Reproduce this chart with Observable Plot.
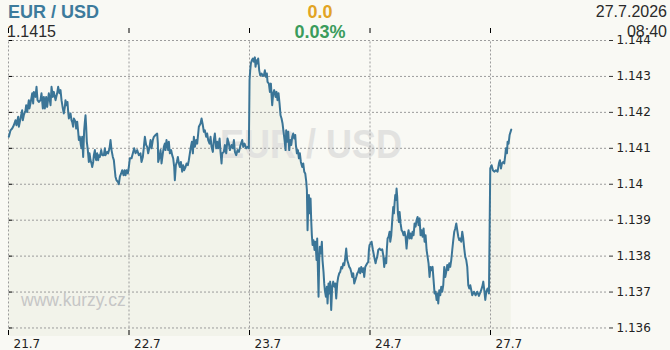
<!DOCTYPE html>
<html><head><meta charset="utf-8">
<script src="https://cdn.jsdelivr.net/npm/d3@7"></script>
<script src="https://cdn.jsdelivr.net/npm/@observablehq/plot@0.6"></script>
<style>
body{margin:0;background:#f9f9f4;}
#wrap{position:relative;width:670px;height:350px;overflow:hidden;background:#f9f9f4;font-family:"Liberation Sans",Arial,sans-serif;}
#wrap svg{position:absolute;left:0;top:0;}
.lbl{position:absolute;white-space:nowrap;}
</style></head><body>
<div id="wrap"></div>
<script>
// ---- data ----
const pairName = "EUR / USD";
const lastRate = "1.1415";
const changeAbs = "0.0";
const changePct = "0.03%";
const dateText = "27.7.2026";
const timeText = "08:40";
const siteText = "www.kurzy.cz";
const dayTicks = [0, 24, 48, 72, 96];          // hours since 21.7 00:00 (trading time)
const dayLabels = ["21.7", "22.7", "23.7", "24.7", "27.7"];
const rateTicks = [1.136, 1.137, 1.138, 1.139, 1.140, 1.141, 1.142, 1.143, 1.144];
// [hour, rate]
const series = [
[0.07,1.14132],[0.40,1.14150],[0.73,1.14155],[1.06,1.14164],[1.39,1.14178],[1.59,1.14164],[1.93,1.14188],[2.06,1.14160],[2.39,1.14183],[2.72,1.14206],
[2.85,1.14178],[3.05,1.14192],[3.39,1.14206],[3.52,1.14220],[3.72,1.14201],[4.05,1.14234],[4.18,1.14211],[4.38,1.14225],[4.72,1.14253],[4.91,1.14225],
[5.05,1.14257],[5.38,1.14243],[5.58,1.14271],[5.78,1.14234],[6.04,1.14229],[6.37,1.14234],[6.57,1.14253],[6.84,1.14211],[7.04,1.14243],[7.24,1.14211],
[7.50,1.14243],[7.70,1.14215],[8.03,1.14253],[8.37,1.14220],[8.57,1.14271],[8.83,1.14243],[9.03,1.14257],[9.36,1.14234],[9.69,1.14253],[9.89,1.14271],
[10.16,1.14253],[10.36,1.14262],[10.56,1.14234],[10.82,1.14211],[11.02,1.14197],[11.22,1.14215],[11.35,1.14234],[11.55,1.14220],[11.75,1.14229],[11.89,1.14201],
[12.02,1.14183],[12.35,1.14197],[12.55,1.14178],[12.68,1.14174],[12.88,1.14160],[13.01,1.14183],[13.35,1.14174],[13.48,1.14155],[13.68,1.14174],[13.88,1.14146],
[14.01,1.14123],[14.21,1.14132],[14.41,1.14109],[14.54,1.14100],[14.67,1.14132],[14.87,1.14076],[15.07,1.14150],[15.21,1.14174],[15.34,1.14192],[15.47,1.14160],
[15.60,1.14118],[15.80,1.14095],[16.00,1.14062],[16.14,1.14086],[16.33,1.14067],[16.53,1.14058],[16.67,1.14048],[16.87,1.14062],[17.00,1.14081],[17.20,1.14095],
[17.33,1.14076],[17.46,1.14067],[17.66,1.14086],[17.86,1.14067],[17.99,1.14081],[18.19,1.14076],[18.46,1.14095],[18.66,1.14081],[18.99,1.14081],[19.19,1.14100],
[19.32,1.14081],[19.65,1.14090],[19.85,1.14086],[20.12,1.14100],[20.32,1.14123],[20.52,1.14095],[20.78,1.14076],[20.98,1.14067],[21.18,1.14039],[21.31,1.14021],
[21.51,1.14011],[21.78,1.14007],[21.98,1.14000],[22.18,1.14021],[22.44,1.14030],[22.64,1.14039],[22.91,1.14025],[23.11,1.14039],[23.31,1.14025],[23.51,1.14039],
[23.77,1.14030],[23.97,1.14048],[24.17,1.14072],[24.50,1.14072],[24.77,1.14086],[25.03,1.14100],[25.30,1.14086],[25.63,1.14095],[25.96,1.14081],[26.29,1.14086],
[26.49,1.14062],[26.76,1.14076],[26.96,1.14104],[27.16,1.14132],[27.42,1.14109],[27.62,1.14104],[27.82,1.14086],[28.09,1.14104],[28.29,1.14123],[28.49,1.14100],
[28.75,1.14123],[28.95,1.14132],[29.28,1.14137],[29.61,1.14141],[29.75,1.14113],[29.81,1.14062],[30.08,1.14076],[30.28,1.14095],[30.48,1.14058],[30.74,1.14086],
[30.94,1.14104],[31.14,1.14113],[31.27,1.14095],[31.47,1.14123],[31.80,1.14095],[31.94,1.14118],[32.14,1.14086],[32.40,1.14095],[32.60,1.14081],[32.80,1.14072],
[33.00,1.14048],[33.13,1.14011],[33.33,1.14053],[33.53,1.14062],[33.73,1.14076],[33.93,1.14058],[34.13,1.14048],[34.33,1.14062],[34.59,1.14035],[34.79,1.14053],
[34.99,1.14039],[35.26,1.14048],[35.46,1.14058],[35.72,1.14053],[35.92,1.14067],[36.12,1.14086],[36.32,1.14104],[36.52,1.14118],[36.72,1.14086],[36.92,1.14132],
[37.12,1.14104],[37.38,1.14123],[37.58,1.14113],[37.78,1.14141],[37.91,1.14160],[38.25,1.14169],[38.45,1.14183],[38.71,1.14164],[38.91,1.14146],[39.11,1.14150],
[39.37,1.14132],[39.57,1.14141],[39.77,1.14123],[40.04,1.14113],[40.24,1.14132],[40.44,1.14104],[40.70,1.14090],[40.90,1.14123],[41.10,1.14141],[41.37,1.14100],
[41.57,1.14118],[41.77,1.14100],[42.04,1.14127],[42.23,1.14090],[42.43,1.14058],[42.56,1.14086],[42.89,1.14090],[43.09,1.14109],[43.36,1.14086],[43.62,1.14127],
[43.89,1.14113],[44.09,1.14095],[44.42,1.14109],[44.69,1.14100],[44.89,1.14123],[45.09,1.14090],[45.35,1.14081],[45.62,1.14095],[45.88,1.14090],[46.22,1.14109],
[46.55,1.14123],[46.75,1.14104],[47.01,1.14113],[47.35,1.14100],[47.61,1.14104],[47.87,1.14100],[48.01,1.14290],[48.14,1.14317],[48.27,1.14336],[48.47,1.14345],
[48.67,1.14350],[48.87,1.14341],[49.07,1.14353],[49.20,1.14327],[49.40,1.14345],[49.60,1.14336],[49.73,1.14350],[49.93,1.14317],[50.13,1.14303],[50.40,1.14308],
[50.66,1.14301],[50.86,1.14303],[51.06,1.14317],[51.26,1.14299],[51.46,1.14308],[51.59,1.14285],[51.86,1.14280],[52.06,1.14257],[52.26,1.14280],[52.39,1.14248],
[52.52,1.14220],[52.72,1.14253],[52.92,1.14262],[53.18,1.14243],[53.38,1.14257],[53.58,1.14234],[53.78,1.14253],[53.98,1.14225],[54.18,1.14192],[54.38,1.14183],
[54.58,1.14169],[54.78,1.14146],[54.98,1.14123],[55.18,1.14095],[55.31,1.14150],[55.51,1.14118],[55.71,1.14146],[55.91,1.14095],[56.11,1.14123],[56.31,1.14109],
[56.51,1.14132],[56.71,1.14141],[56.91,1.14127],[57.11,1.14137],[57.24,1.14109],[57.44,1.14086],[57.64,1.14095],[57.84,1.14072],[58.03,1.14086],[58.23,1.14062],
[58.50,1.14048],[58.70,1.14058],[58.90,1.14035],[59.10,1.14030],[59.30,1.14007],[59.43,1.13984],[59.56,1.13872],[59.69,1.13937],[59.83,1.13970],[59.96,1.13919],
[60.16,1.13960],[60.29,1.13900],[60.42,1.13858],[60.56,1.13831],[60.75,1.13844],[60.95,1.13817],[61.15,1.13840],[61.35,1.13789],[61.48,1.13849],[61.61,1.13770],
[61.75,1.13687],[61.88,1.13789],[62.01,1.13826],[62.21,1.13807],[62.41,1.13840],[62.54,1.13789],[62.74,1.13756],[62.88,1.13724],[63.01,1.13705],[63.21,1.13687],
[63.41,1.13715],[63.54,1.13668],[63.74,1.13724],[63.87,1.13696],[64.07,1.13729],[64.27,1.13650],[64.47,1.13715],[64.67,1.13729],[64.87,1.13715],[65.07,1.13724],
[65.27,1.13682],[65.47,1.13724],[65.67,1.13742],[65.87,1.13752],[66.07,1.13756],[66.27,1.13770],[66.47,1.13766],[66.67,1.13780],[66.87,1.13775],[67.06,1.13794],
[67.26,1.13821],[67.46,1.13789],[67.66,1.13780],[67.86,1.13770],[68.06,1.13766],[68.26,1.13756],[68.46,1.13742],[68.66,1.13752],[68.86,1.13724],[69.06,1.13733],
[69.26,1.13742],[69.46,1.13752],[69.65,1.13756],[69.85,1.13766],[70.05,1.13752],[70.25,1.13770],[70.45,1.13756],[70.65,1.13766],[70.85,1.13742],[71.05,1.13770],
[71.25,1.13775],[71.45,1.13780],[71.65,1.13784],[71.78,1.13817],[71.91,1.13831],[72.11,1.13835],[72.31,1.13840],[72.58,1.13817],[72.84,1.13798],[73.11,1.13780],
[73.24,1.13789],[73.44,1.13798],[73.64,1.13817],[73.90,1.13821],[74.17,1.13817],[74.43,1.13819],[74.63,1.13803],[74.83,1.13770],[75.03,1.13794],[75.23,1.13780],
[75.36,1.13821],[75.50,1.13849],[75.70,1.13854],[75.90,1.13868],[76.03,1.13840],[76.23,1.13858],[76.43,1.13900],[76.63,1.13937],[76.76,1.13919],[76.89,1.13947],
[77.03,1.13970],[77.16,1.13956],[77.29,1.13988],[77.42,1.13965],[77.56,1.13919],[77.75,1.13895],[77.89,1.13923],[78.09,1.13891],[78.29,1.13872],[78.48,1.13868],
[78.68,1.13858],[78.88,1.13868],[79.08,1.13854],[79.28,1.13821],[79.48,1.13854],[79.68,1.13872],[79.88,1.13849],[80.08,1.13863],[80.28,1.13849],[80.48,1.13868],
[80.68,1.13858],[80.88,1.13891],[81.08,1.13882],[81.27,1.13900],[81.47,1.13909],[81.67,1.13886],[81.87,1.13905],[82.07,1.13858],[82.27,1.13872],[82.47,1.13854],
[82.67,1.13877],[82.87,1.13840],[83.07,1.13858],[83.27,1.13817],[83.47,1.13798],[83.66,1.13780],[83.86,1.13742],[84.06,1.13770],[84.26,1.13761],[84.46,1.13770],
[84.66,1.13733],[84.86,1.13696],[85.06,1.13701],[85.26,1.13678],[85.46,1.13696],[85.59,1.13668],[85.79,1.13705],[85.99,1.13691],[86.19,1.13715],[86.39,1.13701],
[86.59,1.13719],[86.79,1.13770],[86.99,1.13742],[87.19,1.13756],[87.38,1.13775],[87.58,1.13761],[87.78,1.13780],[87.98,1.13770],[88.18,1.13789],[88.38,1.13817],
[88.58,1.13844],[88.78,1.13868],[88.98,1.13877],[89.18,1.13891],[89.38,1.13872],[89.58,1.13854],[89.78,1.13844],[89.97,1.13849],[90.17,1.13840],[90.37,1.13868],
[90.57,1.13849],[90.77,1.13821],[90.97,1.13798],[91.17,1.13789],[91.37,1.13770],[91.57,1.13719],[91.77,1.13710],[91.97,1.13719],[92.17,1.13705],[92.36,1.13691],
[92.70,1.13701],[93.03,1.13691],[93.36,1.13701],[93.69,1.13689],[94.03,1.13701],[94.36,1.13715],[94.56,1.13729],[94.76,1.13705],[94.96,1.13678],[95.16,1.13701],
[95.42,1.13710],[95.69,1.13696],[95.82,1.13872],[95.95,1.14044],[96.22,1.14053],[96.48,1.14039],[96.75,1.14035],[97.08,1.14039],[97.41,1.14035],[97.68,1.14058],
[97.88,1.14067],[98.08,1.14044],[98.28,1.14058],[98.54,1.14062],[98.74,1.14058],[98.94,1.14081],[99.07,1.14100],[99.27,1.14086],[99.40,1.14118],[99.60,1.14113],
[99.80,1.14137],[100.00,1.14146],[100.13,1.14152]
];
const xDomain = [0, 119.3];
const yDomain = [1.135763, 1.144];

// ---- chart ----
const data = series.map(([h, v]) => ({h, v}));
const fmt = d => String(+d.toFixed(3));
const grid = "#9c9c9c";

const chart = Plot.plot({
  width: 670, height: 350,
  marginLeft: 8, marginRight: 63, marginTop: 40, marginBottom: 14,
  style: {background: "transparent", fontFamily: "'DejaVu Sans', Verdana, sans-serif", fontSize: "12px", color: "#222"},
  x: {domain: xDomain, axis: null},
  y: {domain: yDomain, axis: null},
  marks: [
    Plot.areaY(data, {x: "h", y1: yDomain[0], y2: "v", fill: "#f2f3ea"}),
    Plot.text([pairName], {text: d => d, frameAnchor: "top", dx: 3, dy: 117, lineAnchor: "bottom",
      fontSize: 40, fontWeight: "bold", fontFamily: "'Liberation Sans', Arial, sans-serif", fill: "#e2e2e0"}),
    Plot.ruleY(rateTicks, {stroke: grid, strokeDasharray: "2,2"}),
    Plot.ruleX(dayTicks, {y1: rateTicks[0], y2: rateTicks[rateTicks.length - 1], stroke: grid, strokeDasharray: "2,2"}),
    Plot.ruleY(rateTicks, {stroke: "#000", insetLeft: 1, insetRight: 595}),
    Plot.ruleY(rateTicks, {stroke: "#333", insetLeft: 601, insetRight: -6}),
    Plot.ruleX(dayTicks, {stroke: "#000", insetTop: 290, insetBottom: 1}),
    Plot.ruleX(dayTicks, {stroke: "#000", insetTop: -12, insetBottom: 303}),
    Plot.text(rateTicks, {y: d => d, text: fmt, frameAnchor: "right", dx: 9, textAnchor: "start", fill: "#222"}),
    Plot.text(dayTicks, {x: d => d, text: (d, i) => dayLabels[i], frameAnchor: "bottom", lineAnchor: "top",
      dx: 5, dy: 3, textAnchor: "start", fill: "#222"}),
    Plot.line(data, {x: "h", y: "v", stroke: "#3b7597", strokeWidth: 2})
  ]
});

const wrap = document.getElementById("wrap");
wrap.appendChild(chart);
chart.querySelectorAll("text").forEach(t => {
  if (t.textContent === pairName) {
    t.setAttribute("textLength", 182);
    t.setAttribute("lengthAdjust", "spacingAndGlyphs");
  }
});

function label(text, css) {
  const d = document.createElement("div");
  d.className = "lbl";
  d.textContent = text;
  Object.assign(d.style, css);
  wrap.appendChild(d);
}
label(pairName, {left: "8px", top: "3px", fontSize: "18px", lineHeight: "18px", fontWeight: "bold", color: "#3d7b9c"});
label(changeAbs, {left: "270px", width: "100px", textAlign: "center", top: "3px", fontSize: "18px", lineHeight: "18px", fontWeight: "bold", color: "#e2a424"});
label(changePct, {left: "270px", width: "100px", textAlign: "center", top: "23px", fontSize: "18px", lineHeight: "18px", fontWeight: "bold", color: "#3b9c5c"});
label(dateText, {right: "3px", top: "4px", fontSize: "16px", lineHeight: "16px", color: "#2a2a2a"});
label(timeText, {right: "3px", top: "24px", fontSize: "16px", lineHeight: "16px", color: "#2a2a2a"});
label(lastRate, {left: "7px", top: "24px", fontSize: "16px", lineHeight: "16px", color: "#2a2a2a"});
label(siteText, {left: "21px", top: "292px", fontSize: "17.5px", lineHeight: "17.5px", color: "#c6c6c6"});
</script>
</body></html>
